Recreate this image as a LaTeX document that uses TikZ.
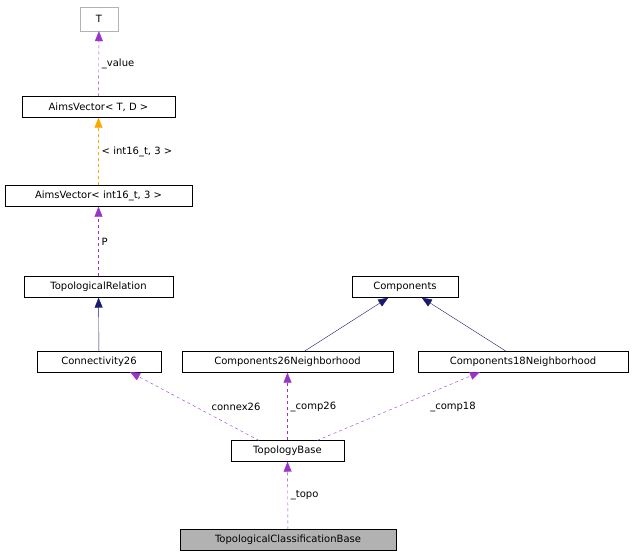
\documentclass[tikz,border=0pt]{standalone}
\usepackage{fontspec}
\setmainfont{DejaVu Sans}
\usetikzlibrary{arrows.meta}
\definecolor{purp}{HTML}{9A32CD}
\definecolor{navy}{HTML}{191970}
\definecolor{orng}{HTML}{FFA500}
\begin{document}
\begin{tikzpicture}[x=1pt,y=-1pt,
  box/.style={draw=black,fill=white,inner sep=0pt,minimum height=21pt,font=\fontsize{10}{12}\selectfont},
  lbl/.style={text=black,font=\fontsize{10}{12}\selectfont,inner sep=1pt},
  use/.style={purp,dashed,-{Triangle[length=10pt,width=8pt]}},
  tmpl/.style={orng,dashed,-{Triangle[length=10pt,width=8pt]}},
  inh/.style={navy,-{Triangle[length=10pt,width=8pt]}}]
\useasboundingbox (0,0) rectangle (633,560);
\node[box,draw=gray!60,minimum width=38pt,minimum height=24pt] (T) at (99,19) {T};
\node[box,minimum width=153pt] (AV) at (98.5,107) {AimsVector< T, D >};
\node[box,minimum width=187pt] (AVi) at (98.5,196) {AimsVector< int16\_t, 3 >};
\node[box,minimum width=149pt] (TR) at (98.5,287) {TopologicalRelation};
\node[box,minimum width=124pt] (C26) at (99,362) {Connectivity26};
\node[box,minimum width=106pt] (Co) at (405,287) {Components};
\node[box,minimum width=211pt] (CN26) at (287.5,362) {Components26Neighborhood};
\node[box,minimum width=210pt] (CN18) at (523,362) {Components18Neighborhood};
\node[box,minimum width=113pt] (TB) at (287.5,451) {TopologyBase};
\node[box,fill=gray!60,minimum width=216pt] (TCB) at (288,540) {TopologicalClassificationBase};
\coordinate (tb1) at (259,440.5);
\coordinate (tb2) at (317,440.5);
\coordinate (c1) at (130,372);
\coordinate (c2) at (480,372);
\draw[use] (AV) -- node[lbl,right,xshift=2pt]{\_value} (T);
\draw[tmpl] (AVi) -- node[lbl,right,xshift=2pt]{< int16\_t, 3 >} (AV);
\draw[use] (TR) -- node[lbl,right,xshift=2pt]{P} (AVi);
\draw[inh] (C26) -- (TR);
\draw[inh] (CN26) -- (Co);
\draw[inh] (CN18) -- (Co);
\draw[use] (tb1) -- (c1);
\node[lbl] (l1) at (236,407) {connex26};
\draw[use] (TB) -- node[lbl,right,xshift=2pt]{\_comp26} (CN26);
\draw[use] (tb2) -- (c2);
\node[lbl] (l2) at (453,407) {\_comp18};
\draw[use] (TCB) -- node[lbl,right,xshift=2pt]{\_topo} (TB);
\end{tikzpicture}
\end{document}
